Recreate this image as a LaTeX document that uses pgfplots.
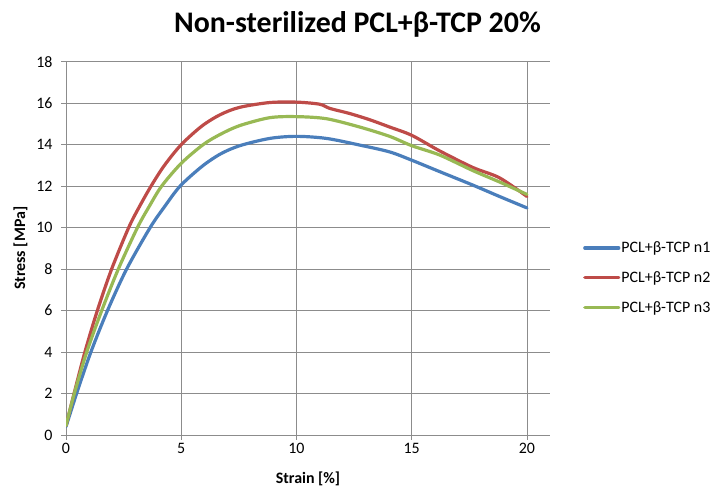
\documentclass[border=0pt]{standalone}
\usepackage{fontspec}
\setmainfont{Carlito}
\usepackage{pgfplots}
\pgfplotsset{compat=1.18}
\definecolor{cblue}{HTML}{4A7EBB}
\definecolor{cred}{HTML}{BE4B48}
\definecolor{cgreen}{HTML}{98B954}
\definecolor{cgrid}{HTML}{8C8C8C}
\begin{document}
\begin{tikzpicture}[x=1bp,y=1bp]
\path[use as bounding box] (0,0) rectangle (715,491);
\node[font=\fontsize{30}{34}\selectfont\bfseries] at (357.5,467) {Non-sterilized PCL+β-TCP 20\%};
\begin{axis}[
  at={(66bp,56bp)}, anchor=south west,
  scale only axis, width=484bp, height=373.3bp,
  xmin=0, xmax=21, ymin=0, ymax=18,
  xtick={0,5,10,15,20}, ytick={0,2,...,18},
  axis lines=left, axis line style={cgrid, line width=0.8bp, -},
  grid=major, grid style={cgrid, line width=0.8bp},
  tick align=outside, major tick length=5bp, tick style={cgrid, line width=0.8bp},
  ticklabel style={font=\fontsize{16}{19}\selectfont},
  yticklabel style={xshift=-5bp},
  /pgf/number format/assume math mode=true,
  xlabel={Strain [\%]}, ylabel={Stress [MPa]},
  label style={font=\fontsize{16}{19}\selectfont\bfseries},
  xlabel style={yshift=-11bp},
  ylabel style={yshift=2bp},
  legend style={at={(1.062,0.421)}, anchor=west, draw=none, fill=none,
    font=\fontsize{16}{19}\selectfont, row sep=15.5bp, nodes={inner sep=1bp}},
  legend cell align=left,
  legend image code/.code={\draw[#1] (0bp,0bp) -- (34bp,0bp);},
  every axis plot/.append style={line width=3.2bp, line join=round, line cap=round},
]
\addplot[cblue, smooth, tension=0.5] coordinates {
(0,0.4) (0.46,2) (1.08,4) (1.8,6) (2.63,8) (3.65,10) (4.27,11) (4.95,12) (5.9,12.95) (6.7,13.55) (7.54,13.95) (8.84,14.3) (10.0,14.4) (11.3,14.3) (12.74,13.98) (14.04,13.65) (15.0,13.25) (16.21,12.7) (17.65,12.05) (18.81,11.5) (20.0,10.95)
};
\addlegendentry{PCL+β-TCP n1}
\addplot[cred, smooth, tension=0.5] coordinates {
(0,0.45) (0.35,2) (0.82,4) (1.36,6) (1.98,8) (2.72,10) (3.18,11) (3.69,12) (4.27,13) (5.0,14.0) (5.9,14.9) (6.7,15.45) (7.54,15.8) (8.84,16.03) (10.0,16.05) (11.0,15.95) (11.44,15.75) (12.31,15.5) (13.18,15.2) (14.04,14.85) (15.0,14.45) (16.21,13.7) (17.65,12.9) (18.81,12.4) (20.0,11.5)
};
\addlegendentry{PCL+β-TCP n2}
\addplot[cgreen, smooth, tension=0.5] coordinates {
(0,0.45) (0.36,2) (0.9,4) (1.55,6) (2.27,8) (3.1,10) (3.6,11) (4.15,12) (5.0,13.1) (5.95,14.0) (6.7,14.5) (7.54,14.92) (8.84,15.3) (10.0,15.35) (11.3,15.25) (12.74,14.85) (14.04,14.4) (15.0,13.95) (16.21,13.5) (17.65,12.75) (18.81,12.2) (20.0,11.6)
};
\addlegendentry{PCL+β-TCP n3}
\end{axis}
\end{tikzpicture}
\end{document}
